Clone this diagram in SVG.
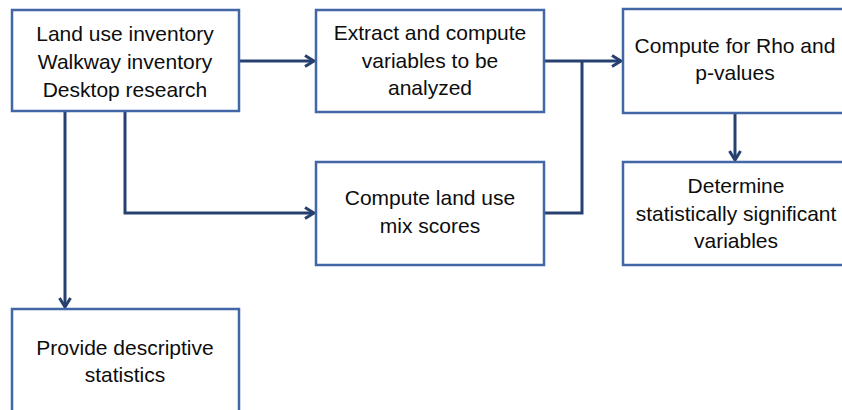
<svg xmlns="http://www.w3.org/2000/svg" width="842" height="410" viewBox="0 0 842 410">
<defs>
<marker id="arr" viewBox="0 0 14 14" refX="12" refY="7" markerWidth="14" markerHeight="14" markerUnits="userSpaceOnUse" orient="auto">
<path d="M3,1.5 L12,7 L3,12.5" fill="none" stroke="#26406F" stroke-width="3"/>
</marker>
<style>
.box{fill:#fff;stroke:#4266A6;stroke-width:2.5}
.t{font-family:"Liberation Sans",Arial,sans-serif;font-size:21px;fill:#0d0d0d;text-anchor:middle}
.c{fill:none;stroke:#26406F;stroke-width:3}
</style>
</defs>
<rect width="842" height="410" fill="#fff"/>
<g id="connectors">
<path class="c" d="M239,61 H314" marker-end="url(#arr)"/>
<path class="c" d="M125,111 V213 H314" marker-end="url(#arr)"/>
<path class="c" d="M65,111 V307" marker-end="url(#arr)"/>
<path class="c" d="M544,61 H621" marker-end="url(#arr)"/>
<path class="c" d="M544,213 H582 V61"/>
<path class="c" d="M735,113 V160" marker-end="url(#arr)"/>
</g>
<g id="n1"><rect class="box" x="12" y="10" width="227" height="101"/>
<text class="t" x="125" y="41">Land use inventory</text>
<text class="t" x="125" y="69">Walkway inventory</text>
<text class="t" x="125" y="97">Desktop research</text></g>
<g id="n2"><rect class="box" x="316" y="10" width="228" height="102"/>
<text class="t" x="430" y="40">Extract and compute</text>
<text class="t" x="430" y="68">variables to be</text>
<text class="t" x="430" y="95">analyzed</text></g>
<g id="n3"><rect class="box" x="316" y="162" width="228" height="103"/>
<text class="t" x="430" y="205">Compute land use</text>
<text class="t" x="430" y="233">mix scores</text></g>
<g id="n4"><rect class="box" x="623" y="9" width="225" height="104"/>
<text class="t" x="735" y="53">Compute for Rho and</text>
<text class="t" x="735" y="80">p-values</text></g>
<g id="n5"><rect class="box" x="623" y="162" width="225" height="103"/>
<text class="t" x="736" y="193">Determine</text>
<text class="t" x="736" y="221">statistically significant</text>
<text class="t" x="736" y="248">variables</text></g>
<g id="n6"><rect class="box" x="12" y="309" width="227" height="104"/>
<text class="t" x="125" y="355">Provide descriptive</text>
<text class="t" x="125" y="382">statistics</text></g>
</svg>
